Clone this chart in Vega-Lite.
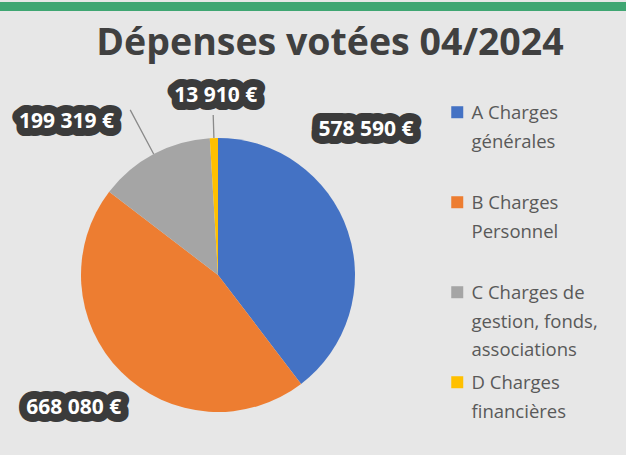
{
  "$schema": "https://vega.github.io/schema/vega-lite/v6.json",
  "background": "#e7e7e7",
  "padding": {"left": 0, "top": 0, "right": 0, "bottom": 0},
  "spacing": 12,
  "vconcat": [
    {
      "width": 626,
      "height": 9,
      "view": {"fill": "#3fa672", "stroke": null},
      "data": {"values": [{}]},
      "mark": {"type": "text", "text": ""},
      "encoding": {}
    },
    {
      "width": 436,
      "height": 364,
      "view": {"stroke": null},
      "title": {
        "text": "Dépenses votées 04/2024",
        "font": "Open Sans",
        "fontSize": 37.5,
        "fontWeight": "bold",
        "color": "#404040",
        "anchor": "middle",
        "frame": "group",
        "dx": 112,
        "offset": -2
      },
      "data": {
        "values": [
          {"cat": "A Charges générales", "value": 578590},
          {"cat": "B Charges Personnel", "value": 668080},
          {"cat": "C Charges de gestion, fonds, associations", "value": 199319},
          {"cat": "D Charges financières", "value": 13910}
        ]
      },
      "encoding": {
        "theta": {"field": "value", "type": "quantitative", "stack": true}
      },
      "layer": [
        {
          "mark": {"type": "arc", "radius": 137},
          "encoding": {
            "color": {
              "field": "cat",
              "type": "nominal",
              "scale": {"range": ["#4472c4", "#ed7d31", "#a5a5a5", "#ffc000"]},
              "legend": {
                "title": null,
                "orient": "none",
                "legendX": 448,
                "legendY": 2,
                "symbolType": "M-1,0.33H1V2.33H-1Z",
                "symbolSize": 144,
                "symbolStrokeWidth": 0,
                "labelFont": "Open Sans",
                "labelFontSize": 18.5,
                "labelColor": "#595959",
                "labelBaseline": "top",
                "labelOffset": 5,
                "gridAlign": "all",
                "rowPadding": 5,
                "labelLimit": 200,
                "labelExpr": "datum.value == 'A Charges générales' ? ['A Charges', 'générales'] : datum.value == 'B Charges Personnel' ? ['B Charges', 'Personnel'] : datum.value == 'C Charges de gestion, fonds, associations' ? ['C Charges de', 'gestion, fonds,', 'associations'] : ['D Charges', 'financières']",
                "encode": {"labels": {"update": {"lineHeight": {"value": 28.5}}}}
              }
            }
          }
        },
        {
          "mark": {"type": "arc", "radius": 187, "radius2": 137, "padAngle": 1.5, "filled": false, "stroke": "#8a8a8a", "strokeWidth": 1.3},
          "encoding": {"order": {"field": "cat"}, "opacity": {"condition": {"test": "datum.cat == 'C Charges de gestion, fonds, associations'", "value": 1}, "value": 0}}
        },
        {
          "mark": {"type": "arc", "radius": 160, "radius2": 137, "padAngle": 1.5, "filled": false, "stroke": "#8a8a8a", "strokeWidth": 1.3},
          "encoding": {"order": {"field": "cat"}, "opacity": {"condition": {"test": "datum.cat == 'D Charges financières'", "value": 1}, "value": 0}}
        },
        {
          "mark": {"type": "text", "radius": 207, "thetaOffset": -0.449, "font": "Open Sans", "fontSize": 21, "fontWeight": "bold", "fill": "#3b3b3b", "stroke": "#3b3b3b", "strokeWidth": 16, "strokeJoin": "round"},
          "encoding": {"order": {"field": "cat"}, "text": {"condition": {"test": "datum.cat == 'A Charges générales'", "field": "value", "type": "quantitative", "format": "$,"}, "value": ""}}
        },
        {
          "mark": {"type": "text", "radius": 207, "thetaOffset": -0.449, "font": "Open Sans", "fontSize": 21, "fontWeight": "bold", "fill": "#ffffff"},
          "encoding": {"order": {"field": "cat"}, "text": {"condition": {"test": "datum.cat == 'A Charges générales'", "field": "value", "type": "quantitative", "format": "$,"}, "value": ""}}
        },
        {
          "mark": {"type": "text", "radius": 196, "thetaOffset": 0.041, "font": "Open Sans", "fontSize": 21, "fontWeight": "bold", "fill": "#3b3b3b", "stroke": "#3b3b3b", "strokeWidth": 16, "strokeJoin": "round"},
          "encoding": {"order": {"field": "cat"}, "text": {"condition": {"test": "datum.cat == 'B Charges Personnel'", "field": "value", "type": "quantitative", "format": "$,"}, "value": ""}}
        },
        {
          "mark": {"type": "text", "radius": 196, "thetaOffset": 0.041, "font": "Open Sans", "fontSize": 21, "fontWeight": "bold", "fill": "#ffffff"},
          "encoding": {"order": {"field": "cat"}, "text": {"condition": {"test": "datum.cat == 'B Charges Personnel'", "field": "value", "type": "quantitative", "format": "$,"}, "value": ""}}
        },
        {
          "mark": {"type": "text", "radius": 215, "thetaOffset": -0.293, "font": "Open Sans", "fontSize": 21, "fontWeight": "bold", "fill": "#3b3b3b", "stroke": "#3b3b3b", "strokeWidth": 16, "strokeJoin": "round"},
          "encoding": {"order": {"field": "cat"}, "text": {"condition": {"test": "datum.cat == 'C Charges de gestion, fonds, associations'", "field": "value", "type": "quantitative", "format": "$,"}, "value": ""}}
        },
        {
          "mark": {"type": "text", "radius": 215, "thetaOffset": -0.293, "font": "Open Sans", "fontSize": 21, "fontWeight": "bold", "fill": "#ffffff"},
          "encoding": {"order": {"field": "cat"}, "text": {"condition": {"test": "datum.cat == 'C Charges de gestion, fonds, associations'", "field": "value", "type": "quantitative", "format": "$,"}, "value": ""}}
        },
        {
          "mark": {"type": "text", "radius": 179, "thetaOffset": 0.017, "font": "Open Sans", "fontSize": 21, "fontWeight": "bold", "fill": "#3b3b3b", "stroke": "#3b3b3b", "strokeWidth": 16, "strokeJoin": "round"},
          "encoding": {"order": {"field": "cat"}, "text": {"condition": {"test": "datum.cat == 'D Charges financières'", "field": "value", "type": "quantitative", "format": "$,"}, "value": ""}}
        },
        {
          "mark": {"type": "text", "radius": 179, "thetaOffset": 0.017, "font": "Open Sans", "fontSize": 21, "fontWeight": "bold", "fill": "#ffffff"},
          "encoding": {"order": {"field": "cat"}, "text": {"condition": {"test": "datum.cat == 'D Charges financières'", "field": "value", "type": "quantitative", "format": "$,"}, "value": ""}}
        }
      ]
    }
  ],
  "resolve": {"scale": {"color": "independent"}, "legend": {"color": "independent"}},
  "config": {
    "locale": {
      "number": {"decimal": ",", "thousands": " ", "grouping": [3], "currency": ["", " €"]}
    }
  }
}
